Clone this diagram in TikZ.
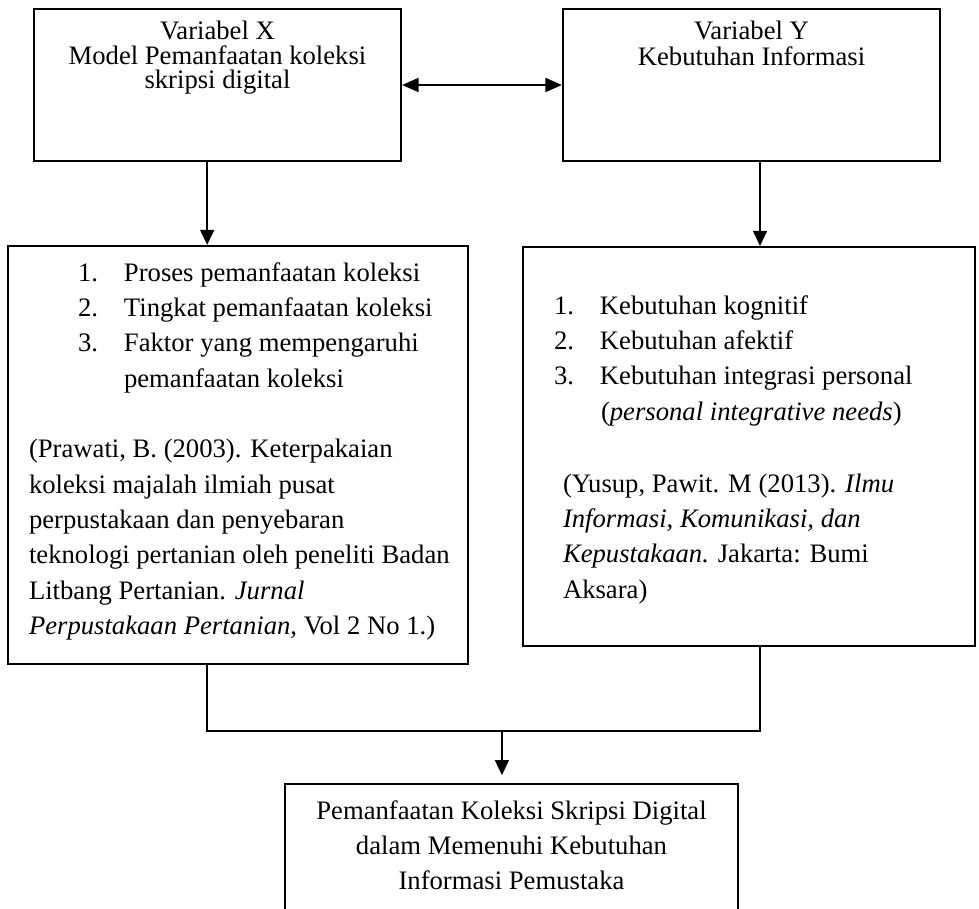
\documentclass[tikz,border=0pt]{standalone}
\usepackage{fontspec}
\setmainfont{Liberation Serif}
\usetikzlibrary{arrows.meta}
\usetikzlibrary{calc}

\newlength{\px}
\setlength{\px}{0.45pt}
\newcommand{\boxtext}[3]{\parbox[c][#2\px][t]{#1\px}{#3}}
\newcommand{\numitem}[3]{\hspace*{#1\px}\makebox[46\px][l]{#2}#3}

\begin{document}
\begin{tikzpicture}[x=0.45pt,y=-0.45pt]
		\tikzset{box/.style={draw,line width=0.9pt,inner sep=0pt,anchor=north west},
			arr/.style={line width=0.9pt,-{Triangle[length=6.8pt,width=6.2pt]}},
			dblarr/.style={line width=1.3pt,{Triangle[length=7.5pt,width=6.2pt]}-{Triangle[length=7.5pt,width=6.2pt]}},
			link/.style={line width=0.9pt}};
		\clip (0,0) rectangle (979,908);
		
		\node[box] (varx) at (33,8) {\boxtext{367}{152}{\centering\fontsize{12pt}{10.9pt}\selectfont
			\rule{0pt}{31\px}Variabel X\\
			Model Pemanfaatan koleksi\\
			skripsi digital}};
		\node[box] (vary) at (562,8) {\boxtext{377}{152}{\centering\fontsize{12pt}{11.5pt}\selectfont
			\rule{0pt}{31\px}Variabel Y\\
			Kebutuhan Informasi}};
		
		\node[box] (dimx) at (7,245) {\boxtext{460}{418}{\raggedright\fontsize{12pt}{15.9pt}\selectfont
			\rule{0pt}{35\px}\numitem{70}{1.}{Proses pemanfaatan koleksi}\\
			\numitem{70}{2.}{Tingkat pemanfaatan koleksi}\\
			\numitem{70}{3.}{Faktor yang mempengaruhi}\\
			\hspace*{116\px}pemanfaatan koleksi\\[15.9pt]
			\hspace*{21\px}(Prawati, B. (2003). Keterpakaian\\
			\hspace*{21\px}koleksi majalah ilmiah pusat\\
			\hspace*{21\px}perpustakaan dan penyebaran\\
			\hspace*{21\px}teknologi pertanian oleh peneliti Badan\\
			\hspace*{21\px}Litbang Pertanian. \textit{Jurnal}\\
			\hspace*{21\px}\textit{Perpustakaan Pertanian}, Vol 2 No 1.)}};
		\node[box] (dimy) at (522,246) {\boxtext{452}{399}{\raggedright\fontsize{12pt}{15.9pt}\selectfont
			\rule{0pt}{67\px}\numitem{31}{1.}{Kebutuhan kognitif}\\
			\numitem{31}{2.}{Kebutuhan afektif}\\
			\numitem{31}{3.}{Kebutuhan integrasi personal}\\
			\hspace*{78\px}(\textit{personal integrative needs})\\[16.6pt]
			\hspace*{40\px}(Yusup, Pawit. M (2013). \textit{Ilmu}\\
			\hspace*{40\px}\textit{Informasi, Komunikasi, dan}\\
			\hspace*{40\px}\textit{Kepustakaan.} Jakarta: Bumi\\
			\hspace*{40\px}Aksara)}};
		
		\node[box] (hasil) at (284,783) {\boxtext{453}{150}{\centering\fontsize{12pt}{15.8pt}\selectfont
			\rule{0pt}{35\px}Pemanfaatan Koleksi Skripsi Digital\\
			dalam Memenuhi Kebutuhan\\
			Informasi Pemustaka}};
		
		% hubungan X dan Y
		\draw[dblarr] (varx.east) -- (vary.west);
		
		\coordinate (xa) at ($(varx.south west)!.472!(varx.south east)$);
		\draw[arr] (xa) -- (xa |- dimx.north);
		\coordinate (ya) at ($(vary.south west)!.5225!(vary.south east)$);
		\draw[arr] (ya) -- (ya |- dimy.north);
		
		% gabungan ke hasil
		\coordinate (xb) at ($(dimx.south west)!.433!(dimx.south east)$);
		\coordinate (yb) at ($(dimy.south west)!.524!(dimy.south east)$);
		\draw[link] (xb) -- ++(0,66) coordinate (join) -| (yb);
		\coordinate (hb) at ($(hasil.north west)!.479!(hasil.north east)$);
		\draw[arr,shorten >=3.5pt] (hb |- join) -- (hb);
		
	\end{tikzpicture}
\end{document}
